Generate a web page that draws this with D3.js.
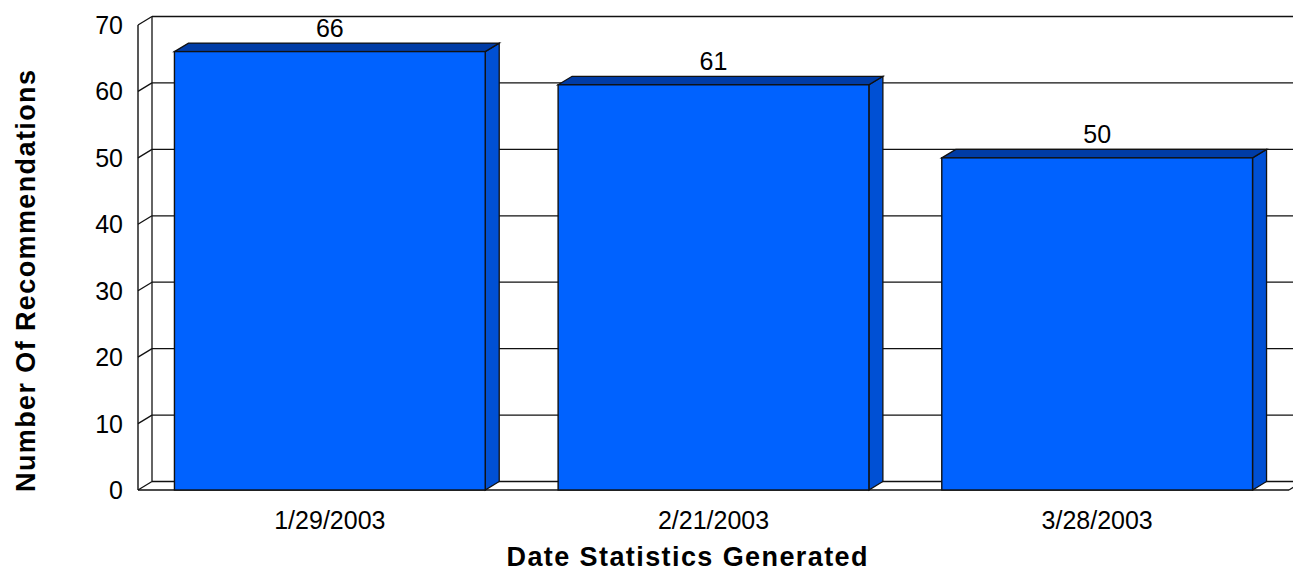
<!DOCTYPE html>
<html>
<head>
<meta charset="utf-8">
<script src="https://cdn.jsdelivr.net/npm/d3@7.9.0/dist/d3.min.js"></script>
<style>
  body { margin: 0; background: #fff; }
  svg { display: block; }
  text { font-family: "Liberation Sans", Arial, sans-serif; fill: #000; }
</style>
</head>
<body>
<svg width="1293" height="573"></svg>
<script>
const dates = ["1/29/2003", "2/21/2003", "3/28/2003"];
const recommendations = [66, 61, 50];
const yTicks = [0, 10, 20, 30, 40, 50, 60, 70];

const width = 1293, height = 573;
const depthX = 14, depthY = -8.5;

const svg = d3.select("svg");

let x = d3.scaleBand()
  .domain(dates)
  .range([138, 1289])
  .paddingInner(0.19)
  .paddingOuter(0.095);

let y = d3.scaleLinear().domain([0, 70]).range([490, 25]);

const line = "#111";

// back wall grid lines
let grid = svg.append("g");
yTicks.forEach((t) => {
  grid.append("line")
    .attr("x1", x.range()[0] + depthX).attr("x2", width + 20)
    .attr("y1", y(t) + depthY).attr("y2", y(t) + depthY)
    .attr("stroke", line).attr("stroke-width", 1.3);
  // diagonal on the left wall
  grid.append("line")
    .attr("x1", x.range()[0]).attr("x2", x.range()[0] + depthX)
    .attr("y1", y(t)).attr("y2", y(t) + depthY)
    .attr("stroke", line).attr("stroke-width", 1.3);
});

// left wall edges
grid.append("line")
  .attr("x1", x.range()[0]).attr("x2", x.range()[0])
  .attr("y1", y(70)).attr("y2", y(0))
  .attr("stroke", line).attr("stroke-width", 1.4);
grid.append("line")
  .attr("x1", x.range()[0] + depthX).attr("x2", x.range()[0] + depthX)
  .attr("y1", y(70) + depthY).attr("y2", y(0) + depthY)
  .attr("stroke", line).attr("stroke-width", 1.3);

// floor front edge and right edge
grid.append("line")
  .attr("x1", x.range()[0]).attr("x2", x.range()[1])
  .attr("y1", y(0)).attr("y2", y(0))
  .attr("stroke", line).attr("stroke-width", 1.4);
grid.append("line")
  .attr("x1", x.range()[1]).attr("x2", x.range()[1] + depthX)
  .attr("y1", y(0)).attr("y2", y(0) + depthY)
  .attr("stroke", line).attr("stroke-width", 1.3);

// bars
let bars = svg.append("g");
dates.forEach((d, i) => {
  let v = recommendations[i];
  let x0 = x(d), x1 = x(d) + x.bandwidth();
  let yt = y(v), yb = y(0);
  // side
  bars.append("path")
    .attr("d", `M${x1},${yt}L${x1 + depthX},${yt + depthY}L${x1 + depthX},${yb + depthY}L${x1},${yb}Z`)
    .attr("fill", "#0050D4").attr("stroke", line).attr("stroke-width", 1.3);
  // top
  bars.append("path")
    .attr("d", `M${x0},${yt}L${x0 + depthX},${yt + depthY}L${x1 + depthX},${yt + depthY}L${x1},${yt}Z`)
    .attr("fill", "#003CA6").attr("stroke", line).attr("stroke-width", 1.3);
  // front
  bars.append("rect")
    .attr("x", x0).attr("y", yt)
    .attr("width", x.bandwidth()).attr("height", yb - yt)
    .attr("fill", "#0062FF").attr("stroke", line).attr("stroke-width", 1.4);
  // value label
  bars.append("text")
    .attr("x", x0 + x.bandwidth() / 2).attr("y", yt + depthY - 6)
    .attr("text-anchor", "middle")
    .attr("font-size", 25)
    .text(v);
});

// y tick labels
svg.append("g").selectAll("text")
  .data(yTicks)
  .join("text")
  .attr("x", 123)
  .attr("y", (d) => y(d))
  .attr("dy", "0.36em")
  .attr("text-anchor", "end")
  .attr("font-size", 25)
  .text((d) => d);

// x tick labels
svg.append("g").selectAll("text")
  .data(dates)
  .join("text")
  .attr("x", (d) => x(d) + x.bandwidth() / 2)
  .attr("y", 529)
  .attr("text-anchor", "middle")
  .attr("font-size", 25)
  .text((d) => d);

// axis titles
svg.append("text")
  .attr("x", 687).attr("y", 566)
  .attr("text-anchor", "middle")
  .attr("font-size", 27).attr("font-weight", "bold")
  .attr("textLength", 361).attr("lengthAdjust", "spacing")
  .text("Date Statistics Generated");

svg.append("text")
  .attr("transform", "translate(35,281) rotate(-90)")
  .attr("text-anchor", "middle")
  .attr("font-size", 27).attr("font-weight", "bold")
  .attr("textLength", 422).attr("lengthAdjust", "spacing")
  .text("Number Of Recommendations");
</script>
</body>
</html>
